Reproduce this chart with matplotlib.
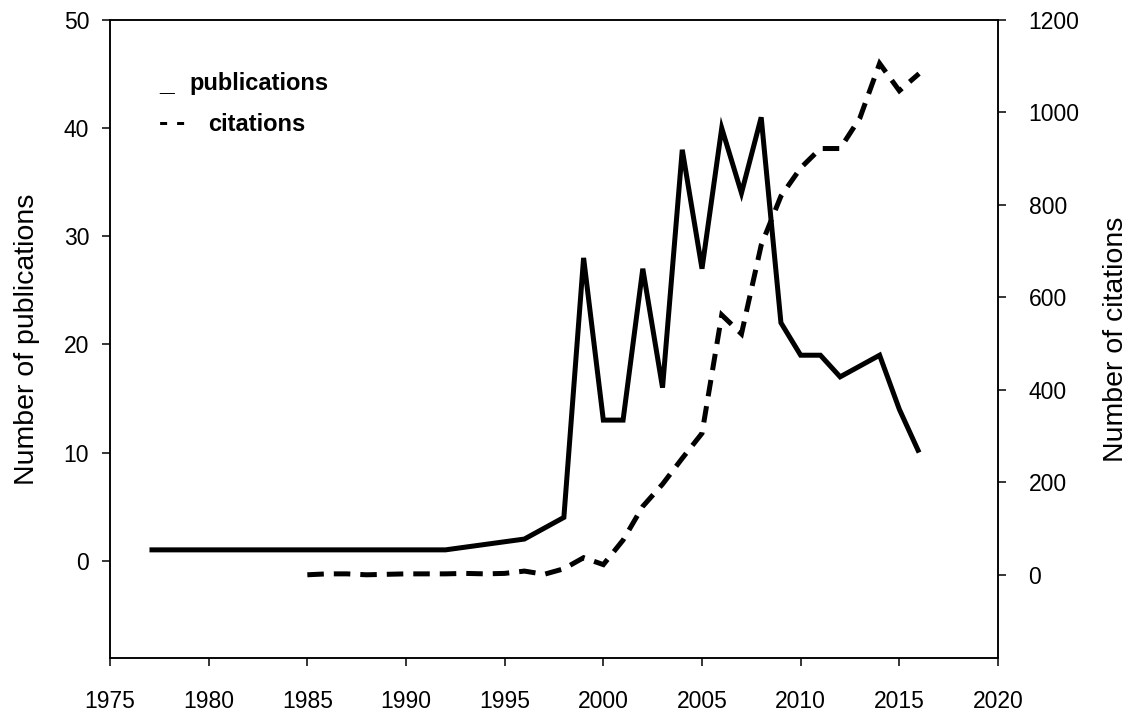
import matplotlib
matplotlib.use("Agg")
import matplotlib.pyplot as plt

plt.rcParams['font.family'] = ['Liberation Sans', 'DejaVu Sans']

# Yearly counts
pub_years = [1977, 1992, 1996, 1998, 1999, 2000, 2001, 2002, 2003, 2004, 2005,
             2006, 2007, 2008, 2009, 2010, 2011, 2012, 2013, 2014, 2015, 2016]
publications = [1, 1, 2, 4, 28, 13, 13, 27, 16, 38, 27,
                40, 34, 41, 22, 19, 19, 17, 18, 19, 14, 10]

cit_years = list(range(1985, 2017))
citations = [0, 2, 2, 0, 1, 2, 2, 2, 3, 2, 3, 8, 1, 13, 37, 22,
             75, 148, 196, 252, 306, 562, 521, 713, 819, 880, 922, 922,
             988, 1106, 1047, 1084]

x_ticks = [1975, 1980, 1985, 1990, 1995, 2000, 2005, 2010, 2015, 2020]
pub_ticks = [0, 10, 20, 30, 40, 50]
cit_ticks = [0, 200, 400, 600, 800, 1000, 1200]

fig = plt.figure(figsize=(11.35, 7.17), dpi=100)
ax = fig.add_axes([110 / 1135, 1 - 658 / 717, 888 / 1135, 638 / 717])
ax2 = ax.twinx()

ax.plot(pub_years, publications, color='black', lw=3.6,
        solid_joinstyle='miter', solid_capstyle='butt')
ax2.plot(cit_years, citations, color='black', lw=3.6,
         dashes=(3.3, 2.0), dash_capstyle='butt', dash_joinstyle='miter')

ax.set_xlim(1975, 2020)
ax.set_ylim(-9, 50)
ax2.set_ylim(-180, 1200)
ax.set_xticks(x_ticks)
ax.set_yticks(pub_ticks)
ax2.set_yticks(cit_ticks)

for a in (ax, ax2):
    for s in a.spines.values():
        s.set_linewidth(1.1)
ax.tick_params(axis='both', direction='out', length=6, width=1.1,
               labelsize=16.5)
ax.tick_params(axis='y', pad=9)
ax.tick_params(axis='x', pad=17)
ax2.tick_params(axis='y', direction='out', length=6, width=1.1,
                labelsize=16.5, pad=16)

ax.set_ylabel('Number of publications', fontsize=20.5, labelpad=17)
ax2.set_ylabel('Number of citations', fontsize=20.5, labelpad=17)

# hand-made key in the upper left
ax.text(0.056, 0.891, '_', transform=ax.transAxes, fontsize=19,
        fontweight='bold', va='baseline')
ax.text(0.090, 0.891, 'publications', transform=ax.transAxes, fontsize=17,
        fontweight='bold', va='baseline')
ax.text(0.055, 0.826, '- -', transform=ax.transAxes, fontsize=20,
        fontweight='bold', va='baseline')
ax.text(0.110, 0.826, 'citations', transform=ax.transAxes, fontsize=17,
        fontweight='bold', va='baseline')

fig.savefig('out.png', dpi=100)
